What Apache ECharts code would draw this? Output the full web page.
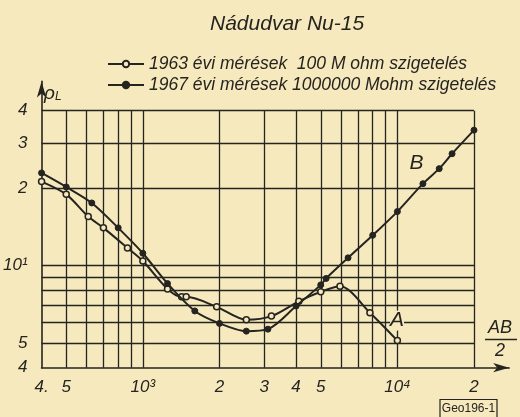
<!DOCTYPE html>
<html>
<head>
<meta charset="utf-8">
<script src="https://cdn.jsdelivr.net/npm/echarts@6/dist/echarts.min.js"></script>
<style>html,body{margin:0;padding:0;background:#f5e9bd;}#c{width:520px;height:417px;}</style>
</head>
<body>
<div id="c"></div>
<script>
// ---- data ----
const x1963 = [400, 500, 610, 700, 870, 1000, 1250, 1420, 1480, 1950, 2550, 3200, 4100, 5000, 5950, 7800, 10000];
const y1963 = [21.2, 18.9, 15.5, 14.0, 11.7, 10.4, 8.1, 7.55, 7.55, 6.9, 6.15, 6.35, 7.25, 7.9, 8.3, 6.55, 5.1];

const x1967 = [400, 500, 630, 800, 1000, 1250, 1600, 2000, 2550, 3100, 4000, 5000, 5250, 6400, 8000, 10000, 12600, 14600, 16400, 20000];
const y1967 = [22.9, 20.2, 17.5, 14.0, 11.15, 8.5, 6.65, 5.95, 5.55, 5.65, 6.95, 8.4, 8.9, 10.7, 13.1, 16.2, 20.8, 23.8, 27.2, 33.6];

const xGrid = [500, 600, 700, 800, 900, 1000, 2000, 3000, 4000, 5000, 6000, 7000, 8000, 9000, 10000, 20000];
const yGrid = [5, 6, 7, 8, 9, 10, 20, 30, 40];

const xTickVals = [400, 500, 1000, 2000, 3000, 4000, 5000, 10000, 20000];
const xTickText = ['4.', '5', '10³', '2', '3', '4', '5', '10⁴', '2'];
const yTickVals = [4, 5, 10, 20, 30, 40];
const yTickText = ['4', '5', '10¹', '2', '3', '4'];

const name1963 = '1963 évi mérések  100 M ohm szigetelés';
const name1967 = '1967 évi mérések 1000000 Mohm szigetelés';

// ---- styling ----
const paper = '#f5e9bd';
const ink = '#262420';
const font = '"Liberation Sans", "DejaVu Sans", sans-serif';

function pickLabel(vals, texts, v) {
  let best = 0, bd = Infinity;
  vals.forEach((t, i) => { const d = Math.abs(Math.log(v / t)); if (d < bd) { bd = d; best = i; } });
  return texts[best];
}

const gridLines = [];
xGrid.forEach(x => gridLines.push([{ coord: [x, 4] }, { coord: [x, 40] }]));
yGrid.forEach(y => gridLines.push([{ coord: [400, y] }, { coord: [20000, y] }]));

const chart = echarts.init(document.getElementById('c'), null, { renderer: 'canvas' });
chart.setOption({
  backgroundColor: paper,
  animation: false,
  textStyle: { fontFamily: font },
  title: {
    text: 'Nádudvar Nu-15',
    left: 205, top: 9,
    textStyle: { fontStyle: 'italic', fontWeight: 'normal', fontSize: 21, color: ink, fontFamily: font }
  },
  legend: {
    orient: 'vertical', left: 102, top: 50, itemWidth: 36, itemHeight: 8, itemGap: 3,
    data: [name1963, name1967],
    textStyle: { fontStyle: 'italic', fontSize: 17.5, color: ink, fontFamily: font }
  },
  grid: { left: 37, top: 81.4, width: 472.2, height: 286.3, containLabel: false },
  xAxis: {
    type: 'log', logBase: 10, min: 400, max: 27500,
    axisLine: { show: true, symbol: ['none', 'arrow'], symbolSize: [7, 16], lineStyle: { color: ink, width: 1.6 } },
    axisTick: { show: false },
    splitLine: { show: false },
    axisLabel: {
      customValues: xTickVals, margin: 11, color: ink, fontSize: 17, fontStyle: 'italic', fontFamily: font,
      formatter: v => pickLabel(xTickVals, xTickText, v)
    }
  },
  yAxis: {
    type: 'log', logBase: 10, min: 4, max: 52,
    axisLine: { show: true, symbol: ['none', 'arrow'], symbolSize: [7, 16], lineStyle: { color: ink, width: 1.6 } },
    axisTick: { show: false },
    splitLine: { show: false },
    axisLabel: {
      customValues: yTickVals, margin: 14, color: ink, fontSize: 17, fontStyle: 'italic', fontFamily: font,
      formatter: v => pickLabel(yTickVals, yTickText, v)
    }
  },
  series: [
    {
      name: 'grid', type: 'line', data: [[400, 4]], showSymbol: false, silent: true, z: 1,
      lineStyle: { width: 0 },
      markLine: {
        silent: true, symbol: ['none', 'none'], z: 1,
        label: { show: false },
        lineStyle: { color: ink, width: 1.3, type: 'solid' },
        data: gridLines
      }
    },
    {
      name: name1963, type: 'line', z: 4,
      data: x1963.map((x, i) => [x, y1963[i]]),
      smooth: 0.3, symbol: 'circle', symbolSize: 6, showSymbol: true,
      itemStyle: { color: paper, borderColor: ink, borderWidth: 1.5 },
      lineStyle: { color: ink, width: 2 },
      markPoint: {
        symbol: 'rect', symbolSize: [14, 20], itemStyle: { color: paper },
        label: { show: true, position: 'inside', formatter: 'A', fontSize: 21, fontStyle: 'italic', color: ink, fontFamily: font },
        data: [{ coord: [9970, 6.1] }]
      }
    },
    {
      name: name1967, type: 'line', z: 5,
      data: x1967.map((x, i) => [x, y1967[i]]),
      smooth: 0.3, symbol: 'circle', symbolSize: 6, showSymbol: true,
      itemStyle: { color: ink, borderColor: ink, borderWidth: 1 },
      lineStyle: { color: ink, width: 2 },
      markPoint: {
        symbol: 'rect', symbolSize: [1, 1], itemStyle: { color: 'rgba(0,0,0,0)' },
        label: { show: true, position: 'inside', formatter: 'B', fontSize: 21, fontStyle: 'italic', color: ink, fontFamily: font },
        data: [{ coord: [11900, 25.0] }]
      }
    }
  ],
  graphic: [
    { type: 'text', left: 44, top: 84, style: { text: 'ρ', fontSize: 19, fontStyle: 'italic', fill: ink, fontFamily: font } },
    { type: 'text', left: 55, top: 91, style: { text: 'L', fontSize: 12, fontStyle: 'italic', fill: ink, fontFamily: font } },
    { type: 'text', x: 500, y: 328, style: { text: 'AB', fontSize: 18, fontStyle: 'italic', fill: ink, fontFamily: font, align: 'center', verticalAlign: 'middle' } },
    { type: 'line', shape: { x1: 485, y1: 339.5, x2: 517, y2: 339.5 }, style: { stroke: ink, lineWidth: 1.5 } },
    { type: 'text', x: 500, y: 351, style: { text: '2', fontSize: 18, fontStyle: 'italic', fill: ink, fontFamily: font, align: 'center', verticalAlign: 'middle' } },
    { type: 'rect', shape: { x: 440, y: 399.5, width: 57, height: 20 }, style: { fill: 'none', stroke: ink, lineWidth: 1.2 } },
    { type: 'text', x: 468.5, y: 409, style: { text: 'Geo196-1', fontSize: 12, fill: ink, fontFamily: font, align: 'center', verticalAlign: 'middle' } }
  ]
});
</script>
</body>
</html>
